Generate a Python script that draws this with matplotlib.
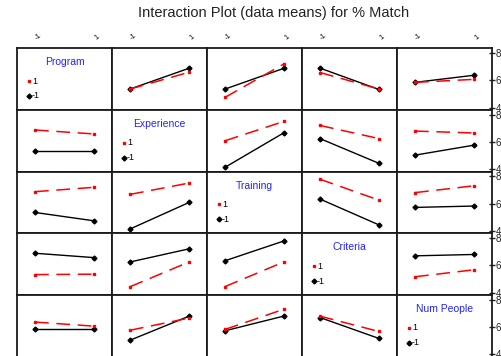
import matplotlib
matplotlib.use("Agg")
import matplotlib.pyplot as plt
from matplotlib.transforms import blended_transform_factory

plt.rcParams['font.family'] = ['Liberation Sans', 'DejaVu Sans']

factors = ["Program", "Experience", "Training", "Criteria", "Num People"]
levels = [-1, 1]
tick_labels = ["-1", "1"]
legend_labels = ["1", "-1"]
y_ticks = [4, 6, 8]
title = "Interaction Plot (data means) for % Match"

# Cell means: rows = level of first factor (-1, 1), cols = level of second factor (-1, 1)
program_experience = [[5.35, 6.87], [5.35, 6.58]]
program_training = [[5.35, 6.87], [4.74, 7.19]]
program_criteria = [[6.88, 5.32], [6.56, 5.35]]
program_numpeople = [[5.84, 6.36], [5.84, 6.06]]
experience_training = [[4.14, 6.67], [6.08, 7.50]]
experience_criteria = [[6.24, 4.43], [7.20, 6.24]]
experience_numpeople = [[5.03, 5.76], [6.79, 6.65]]
training_criteria = [[6.33, 4.44], [7.78, 6.25]]
training_numpeople = [[5.72, 5.82], [6.80, 7.30]]
criteria_numpeople = [[6.69, 6.79], [5.16, 5.67]]

pair_means = {
    (0, 1): program_experience, (0, 2): program_training,
    (0, 3): program_criteria, (0, 4): program_numpeople,
    (1, 2): experience_training, (1, 3): experience_criteria,
    (1, 4): experience_numpeople, (2, 3): training_criteria,
    (2, 4): training_numpeople, (3, 4): criteria_numpeople,
}

W, H = 501, 356
fig = plt.figure(figsize=(W / 100, H / 100), dpi=100)

left, col_w = 17, 95
top, row_h = 48.3, 61.7
n = len(factors)
red = "#ff0000"
blue = "#2222ff"

for r in range(n):
    for c in range(n):
        x0 = left + c * col_w
        y0 = top + r * row_h
        ax = fig.add_axes([x0 / W, 1 - (y0 + row_h) / H, col_w / W, row_h / H])
        ax.set_xlim(-1.61, 1.61)
        ax.set_ylim(3.82, 8.33)
        for s in ax.spines.values():
            s.set_linewidth(1.3)
            s.set_color("#1a1a1a")
        ax.set_xticks([])
        if c == n - 1:
            ax.yaxis.tick_right()
            ax.set_yticks(y_ticks)
            ax.set_yticklabels([str(t) for t in y_ticks])
            ax.tick_params(axis='y', direction='inout', length=4, width=1,
                           labelsize=7, pad=0.5, colors="#222222")
        else:
            ax.set_yticks([])
        if r == 0:
            tr = blended_transform_factory(ax.transData, fig.transFigure)
            for lv, lab in zip(levels, tick_labels):
                ax.text(lv + 0.1, 1 - 37 / H, lab, transform=tr, fontsize=5.5,
                        rotation=40, ha='center', va='center', color="#111111")
        if r == c:
            ax.text(0.5, 1 - 14 / row_h, factors[r], transform=ax.transAxes,
                    ha='center', va='center', fontsize=7.5, color=blue)
            ax.plot([0.128], [1 - 32.7 / row_h], transform=ax.transAxes,
                    marker='s', ms=1.8, color=red, ls='none')
            ax.plot([0.128], [1 - 47.7 / row_h], transform=ax.transAxes,
                    marker='D', ms=2.5, color='black', ls='none')
            ax.text(0.165, 1 - 32.7 / row_h, legend_labels[0], transform=ax.transAxes,
                    ha='left', va='center', fontsize=6.5)
            ax.text(0.155, 1 - 47.7 / row_h, legend_labels[1], transform=ax.transAxes,
                    ha='left', va='center', fontsize=6.5)
            continue
        if r < c:
            tbl = pair_means[(r, c)]
            lines = [tbl[0], tbl[1]]
        else:
            tbl = pair_means[(c, r)]
            lines = [[tbl[0][0], tbl[1][0]], [tbl[0][1], tbl[1][1]]]
        ax.plot(levels, lines[0], color='black', lw=1.0, marker='D', ms=2.5)
        ax.plot(levels, lines[1], color=red, lw=1.1, marker='s', ms=1.8,
                dashes=(9, 5))

fig.text(273.5 / W, 1 - 13.3 / H, title, ha='center', va='center',
         fontsize=10.5, color="#222222")

fig.savefig("out.png", dpi=100)
